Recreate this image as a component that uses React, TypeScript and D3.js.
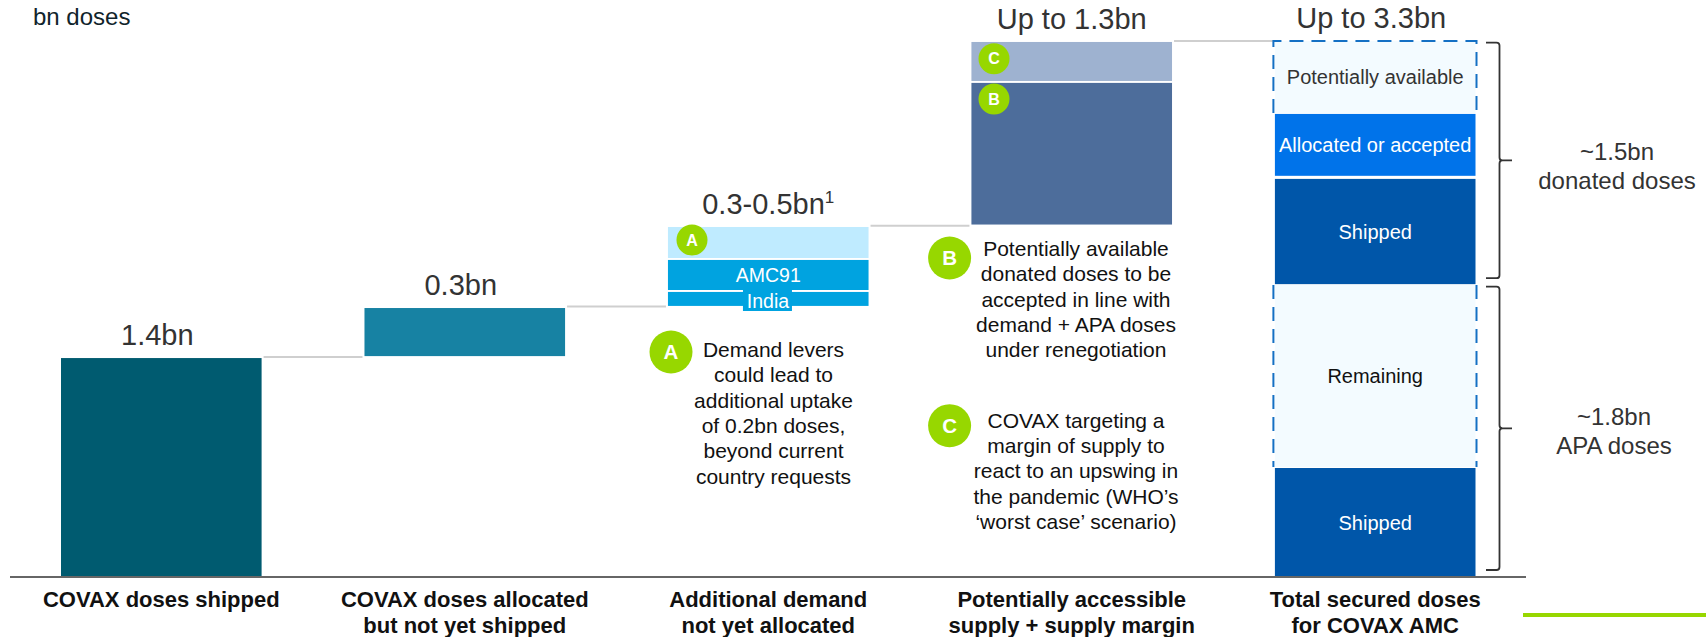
import React from 'react';
import * as d3 from 'd3';

const width = 1706;
const height = 637;
const font = '"Liberation Sans", Arial, sans-serif';

// bar categories, two line labels under the axis
const categories = ['shipped', 'allocated', 'demand', 'supply', 'total'];
const categoryLabels = [
  ['COVAX doses shipped'],
  ['COVAX doses allocated', 'but not yet shipped'],
  ['Additional demand', 'not yet allocated'],
  ['Potentially accessible', 'supply + supply margin'],
  ['Total secured doses', 'for COVAX AMC'],
];
const totalLabels = ['1.4bn', '0.3bn', '0.3-0.5bn', 'Up to 1.3bn', 'Up to 3.3bn'];
const totalShift = [-4, -4, 0, 0, -4];

// segments, bn doses: [bar, from, to, colour, label]
const segCategory = ['shipped', 'allocated', 'demand', 'demand', 'demand', 'supply', 'supply', 'total', 'total', 'total', 'total', 'total'];
const segFrom = [0, 1.36, 1.669, 1.767, 1.964, 2.17, 3.054, 0, 0.677, 1.803, 2.47, 2.857];
const segTo = [1.348, 1.656, 1.755, 1.952, 2.155, 3.042, 3.294, 0.671, 1.797, 2.451, 2.851, 3.3];
const segColor = ['#005b70', '#1782a3', '#00a3e0', '#00a3e0', '#bfebff', '#4d6d9b', '#9eb2d0', '#0056a9', '#f3fbff', '#0056a9', '#0073ea', '#f3fbff'];
const segLabel = ['', '', '', 'AMC91', '', '', '', 'Shipped', 'Remaining', 'Shipped', 'Allocated or accepted', 'Potentially available'];
const segText = ['', '', '', '#fff', '', '', '', '#fff', '#111', '#fff', '#fff', '#333'];
const dashedSegs = [8, 11];

const connectorLevels = [1.355, 1.665, 2.162, 3.3];

const noteA = ['Demand levers', 'could lead to', 'additional uptake', 'of 0.2bn doses,', 'beyond current', 'country requests'];
const noteB = ['Potentially available', 'donated doses to be', 'accepted in line with', 'demand + APA doses', 'under renegotiation'];
const noteC = ['COVAX targeting a', 'margin of supply to', 'react to an upswing in', 'the pandemic (WHO\u2019s', '\u2018worst case\u2019 scenario)'];

const braceLabels = [
  ['~1.5bn', 'donated doses'],
  ['~1.8bn', 'APA doses'],
];
const braceFrom = [1.84, 0.043];
const braceTo = [3.29, 1.788];

const x = d3.scaleBand<string>().domain(categories).range([61, 1475.5]).paddingInner(0.339).paddingOuter(0);
const y = d3.scaleLinear().domain([0, 3.3]).range([577, 41]);
const bw = x.bandwidth();
const cx = (c: string) => (x(c) as number) + bw / 2;

const Badge = ({ cx: px, cy, r, fs, label }: { cx: number; cy: number; r: number; fs: number; label: string }) => (
  <g>
    <circle cx={px} cy={cy} r={r} fill="#97d700" />
    <text x={px} y={cy + fs * 0.36} textAnchor="middle" fontWeight="bold" fontSize={fs} fill="#fff">{label}</text>
  </g>
);

const Note = ({ px, top, lines }: { px: number; top: number; lines: string[] }) => (
  <text textAnchor="middle" fontSize={21} fill="#111">
    {lines.map((l, i) => (
      <tspan key={i} x={px} y={top + i * 25.3}>{l}</tspan>
    ))}
  </text>
);

const bracePath = (from: number, to: number) => {
  const x0 = 1486;
  const x1 = 1499.5;
  const tip = 1512;
  const yA = y(to);
  const yB = y(from);
  const mid = (yA + yB) / 2;
  return `M${x0},${yA} H${x1 - 3} Q${x1},${yA} ${x1},${yA + 3} V${mid - 3} Q${x1},${mid} ${x1 + 3},${mid} H${tip} H${x1 + 3} Q${x1},${mid} ${x1},${mid + 3} V${yB - 3} Q${x1},${yB} ${x1 - 3},${yB} H${x0}`;
};

export default function App() {
  const demand = x('demand') as number;
  const total = x('total') as number;
  return (
    <svg width={width} height={height} style={{ position: 'absolute', left: 0, top: 0 }} fontFamily={font}>
      <rect width={width} height={height} fill="#fff" />
      <text x={33} y={25} fontSize={24} fill="#10242b">bn doses</text>

      {connectorLevels.map((v, i) => (
        <line
          key={i}
          x1={(x(categories[i]) as number) + bw + 2}
          x2={(x(categories[i + 1]) as number) - 2}
          y1={y(v)}
          y2={y(v)}
          stroke="#cfcfcf"
          strokeWidth={2}
        />
      ))}

      {segFrom.map((from, i) => {
        const left = x(segCategory[i]) as number;
        const top = y(segTo[i]);
        const h = y(from) - top;
        return <rect key={i} x={left} y={top} width={bw} height={h} fill={segColor[i]} />;
      })}

      {/* dashed outlines of the not yet shipped parts */}
      {dashedSegs.map((s) => {
        const isTop = segTo[s] === d3.max(segTo);
        const l = total - 1.5;
        const r = total + bw + 1;
        const t = y(segTo[s]);
        const b = y(segFrom[s]);
        return (
          <path
            key={s}
            d={isTop ? `M${l},${b} V${t} H${r} V${b}` : `M${l},${t} V${b} M${r},${t} V${b}`}
            fill="none"
            stroke="#1470c4"
            strokeWidth={2}
            strokeDasharray="14 8"
          />
        );
      })}

      {segLabel.map((label, i) =>
        label ? (
          <text
            key={i}
            x={cx(segCategory[i])}
            y={(y(segFrom[i]) + y(segTo[i])) / 2 + 7}
            textAnchor="middle"
            fontSize={label === 'AMC91' ? 19.5 : 20}
            fill={segText[i]}
          >
            {label}
          </text>
        ) : null
      )}

      {/* India label sticks out of its thin segment */}
      <rect x={demand + 75} y={y(1.767) - 1} width={49} height={22} fill="#00a3e0" />
      <text x={demand + 100} y={307.5} textAnchor="middle" fontSize={19.5} fill="#fff">India</text>

      <line x1={10} x2={1526} y1={y(0)} y2={y(0)} stroke="#666" strokeWidth={2} />
      <rect x={1523} y={613} width={183} height={4} fill="#97d700" />

      {totalLabels.map((label, i) => {
        const c = categories[i];
        const base = d3.max(segTo.filter((_, k) => segCategory[k] === c)) as number;
        return (
          <text key={c} x={cx(c) + totalShift[i]} y={y(base) - 13} textAnchor="middle" fontSize={29} fill="#333">
            {label}
            {c === 'demand' ? <tspan fontSize={17} dy={-11}>1</tspan> : null}
          </text>
        );
      })}

      {categoryLabels.map((lines, i) => (
        <text key={i} textAnchor="middle" fontSize={22} fontWeight="bold" fill="#111">
          {lines.map((l, k) => (
            <tspan key={k} x={cx(categories[i])} y={607 + k * 25.5}>{l}</tspan>
          ))}
        </text>
      ))}

      <Badge cx={692} cy={240} r={15.5} fs={16} label="A" />
      <Badge cx={994} cy={58.7} r={15.5} fs={16} label="C" />
      <Badge cx={994} cy={99} r={15.5} fs={16} label="B" />
      <Badge cx={671} cy={352} r={21.5} fs={20.5} label="A" />
      <Badge cx={949.6} cy={258} r={21.5} fs={20.5} label="B" />
      <Badge cx={949.6} cy={425.7} r={21.5} fs={20.5} label="C" />

      <Note px={773.5} top={357} lines={noteA} />
      <Note px={1076} top={256} lines={noteB} />
      <Note px={1076} top={427.7} lines={noteC} />

      {braceLabels.map((lines, i) => (
        <g key={i}>
          <path d={bracePath(braceFrom[i], braceTo[i])} fill="none" stroke="#333" strokeWidth={1.8} />
          <text textAnchor="middle" fontSize={24} fill="#333">
            {lines.map((l, k) => (
              <tspan key={k} x={i === 0 ? 1617 : 1614} y={(i === 0 ? 160 : 425) + k * 28.5}>{l}</tspan>
            ))}
          </text>
        </g>
      ))}
    </svg>
  );
}
